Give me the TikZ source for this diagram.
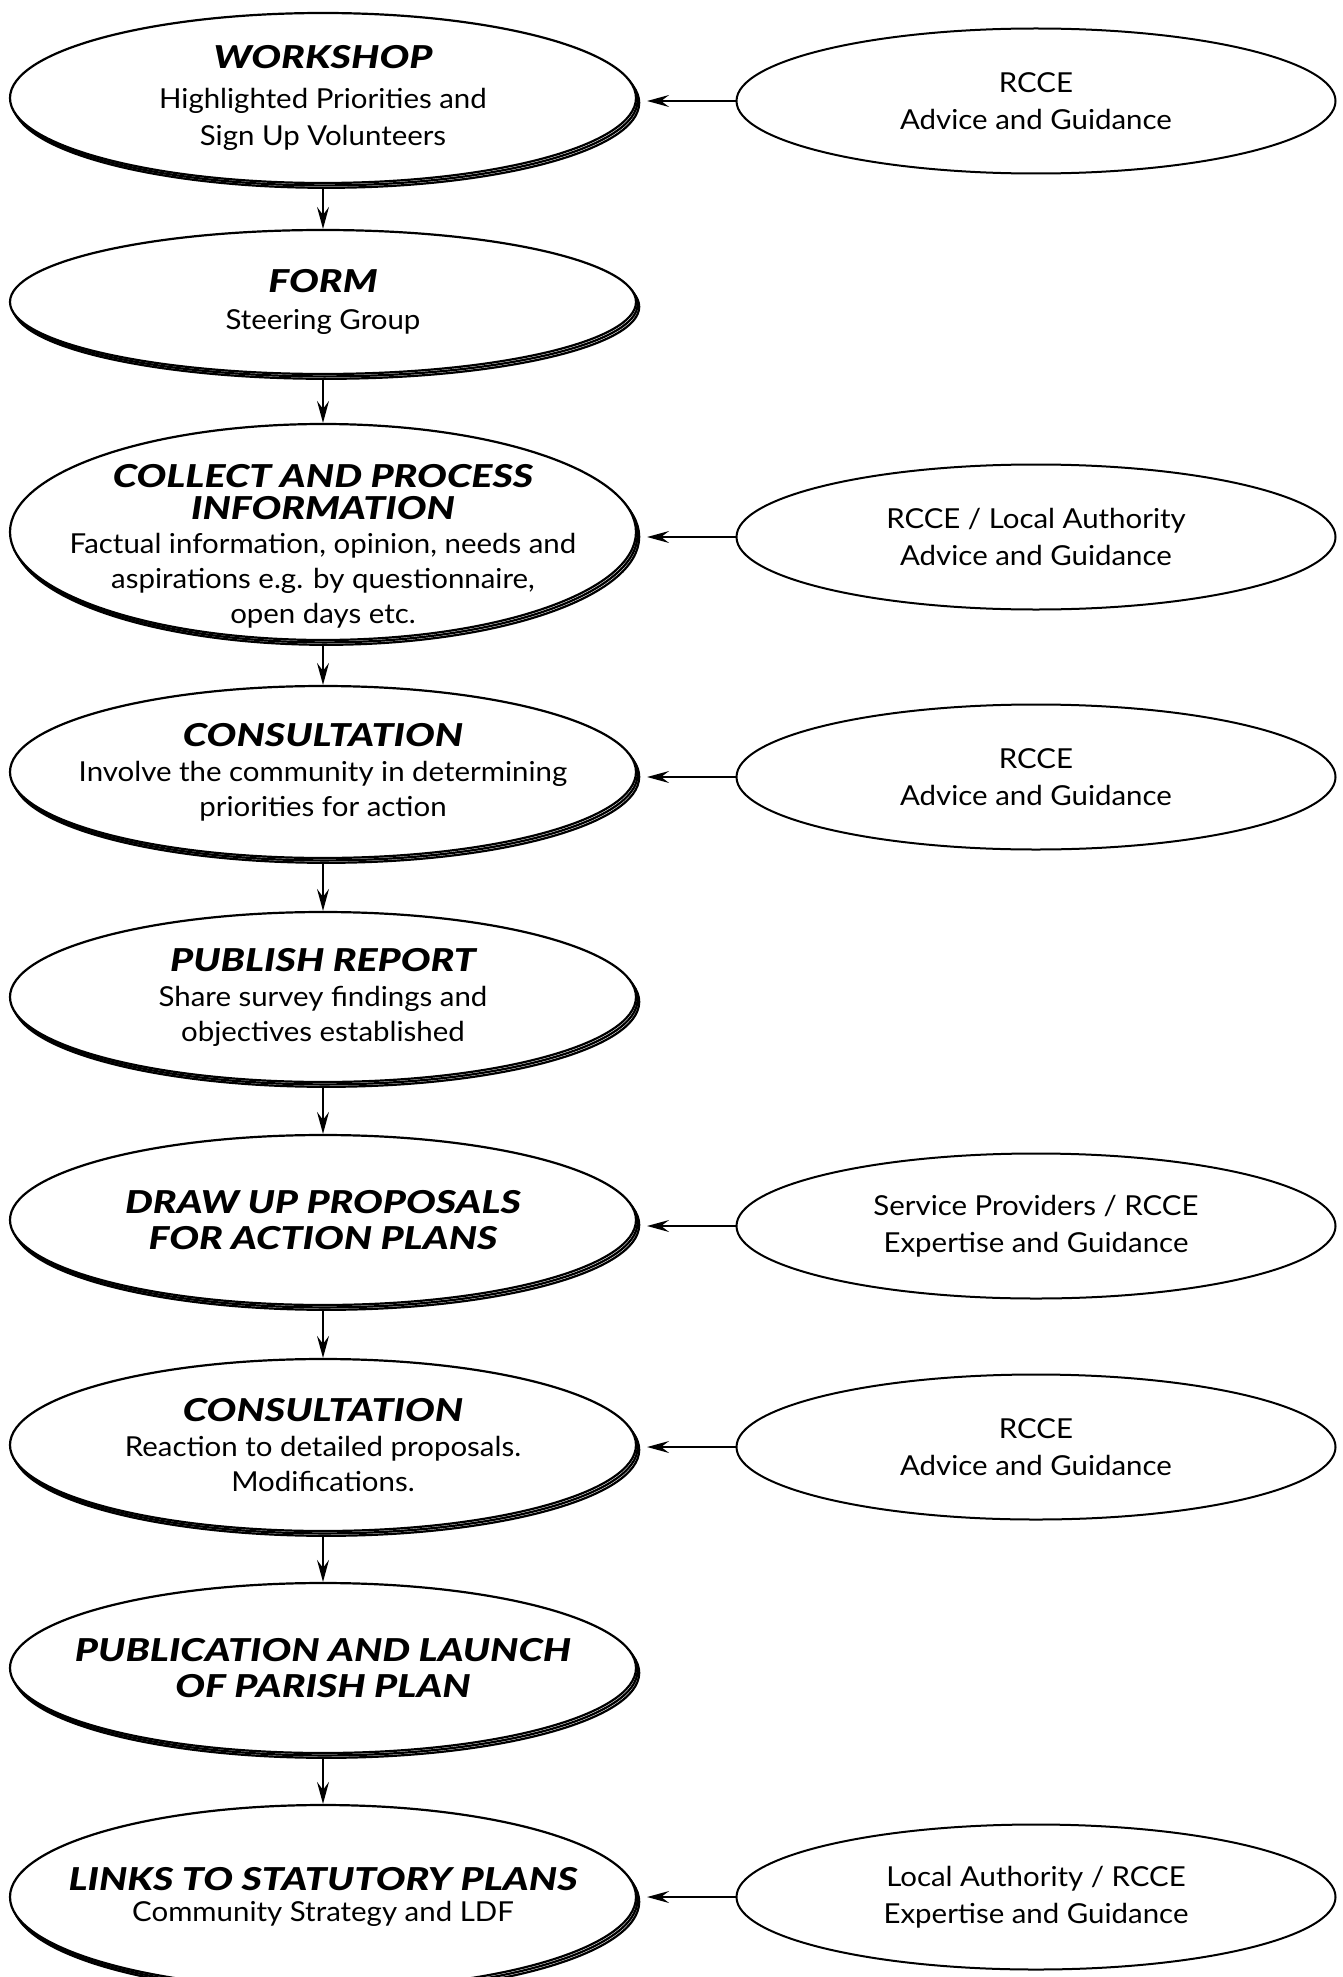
\documentclass[tikz,border=0pt]{standalone}
\usepackage{fontspec}
\setmainfont{Lato}[FakeStretch=1.07]
\newfontfamily\headfont{Lato Black Italic}[FakeStretch=1.25]
\usetikzlibrary{shapes.geometric,shadows,arrows.meta}

\newcommand{\hd}[1]{{\fontsize{31.5}{33}\headfont #1}}

\begin{document}
\begin{tikzpicture}[x=1pt,y=-1pt,
  stage/.style={ellipse, draw, line width=2.2pt, fill=white, inner sep=0pt,
    minimum width=626pt, double copy shadow={shadow xshift=1.6pt, shadow yshift=-2.4pt}},
  helper/.style={ellipse, draw, line width=2pt, fill=white, inner sep=0pt,
    minimum width=599pt, minimum height=145pt},
  txt/.style={align=center, font=\fontsize{27.5}{37}\selectfont},
  flow/.style={-{Stealth[length=22pt,width=12pt,inset=8pt]}, line width=1.5pt}]

\useasboundingbox (0,0) rectangle (1342,1977);

% Main steps
\node[stage, minimum height=170pt] (workshop) at (323,98) {};
\node[stage, minimum height=144pt] (form) at (323,302) {};
\node[stage, minimum height=216pt] (collect) at (323,532) {};
\node[stage, minimum height=172pt] (consultA) at (323,772) {};
\node[stage, minimum height=170pt] (publish) at (323,997) {};
\node[stage, minimum height=170pt] (proposals) at (323,1220) {};
\node[stage, minimum height=172pt] (consultB) at (323,1445) {};
\node[stage, minimum height=170pt] (launch) at (323,1668) {};
\node[stage, minimum height=184pt] (links) at (323,1897) {};

\node[txt] at (workshop) {\hd{WORKSHOP}\\[3pt] Highlighted Priorities and\\ Sign Up Volunteers};
\node[txt] at (form) {\hd{FORM}\\ Steering Group};
\node[txt] at ([yshift=-14pt]collect.center) {\hd{COLLECT AND PROCESS}\\[-5pt] \hd{INFORMATION}\\[-3pt] Factual information, opinion, needs and\\[-2pt] aspirations e.g. by questionnaire,\\[-2pt] open days etc.};
\node[txt] at (consultA) {\hd{CONSULTATION}\\[-2pt] Involve the community in determining\\[-2pt] priorities for action};
\node[txt] at (publish) {\hd{PUBLISH REPORT}\\[-2pt] Share survey findings and\\[-2pt] objectives established};
\node[txt] at (proposals) {\hd{DRAW UP PROPOSALS}\\[-1pt] \hd{FOR ACTION PLANS}};
\node[txt] at (consultB) {\hd{CONSULTATION}\\[-2pt] Reaction to detailed proposals.\\[-2pt] Modifications.};
\node[txt] at (launch) {\hd{PUBLICATION AND LAUNCH}\\[-1pt] \hd{OF PARISH PLAN}};
\node[txt] at (links) {\hd{LINKS TO STATUTORY PLANS}\\[-6pt] Community Strategy and LDF};

% Support
\node[helper] (adviceA) at (1036,101) {};
\node[helper] (adviceB) at (1036,537) {};
\node[helper] (adviceC) at (1036,777) {};
\node[helper] (expertA) at (1036,1226) {};
\node[helper] (adviceD) at (1036,1447) {};
\node[helper] (expertB) at (1036,1897) {};

\node[txt] at (adviceA) {RCCE\\ Advice and Guidance};
\node[txt] at (adviceB) {RCCE / Local Authority\\ Advice and Guidance};
\node[txt] at (adviceC) {RCCE\\ Advice and Guidance};
\node[txt] at (expertA) {Service Providers / RCCE\\ Expertise and Guidance};
\node[txt] at (adviceD) {RCCE\\ Advice and Guidance};
\node[txt] at (expertB) {Local Authority / RCCE\\ Expertise and Guidance};

% Down arrows
\draw[flow] ([yshift=-4pt]workshop.south) -- (form.north);
\draw[flow] ([yshift=-4pt]form.south) -- (collect.north);
\draw[flow] ([yshift=-4pt]collect.south) -- (consultA.north);
\draw[flow] ([yshift=-4pt]consultA.south) -- (publish.north);
\draw[flow] ([yshift=-4pt]publish.south) -- (proposals.north);
\draw[flow] ([yshift=-4pt]proposals.south) -- (consultB.north);
\draw[flow] ([yshift=-4pt]consultB.south) -- (launch.north);
\draw[flow] ([yshift=-4pt]launch.south) -- (links.north);

% Side arrows
\draw[flow, shorten >=10pt] (adviceA.west) -- (adviceA.west -| workshop.east);
\draw[flow, shorten >=10pt] (adviceB.west) -- (adviceB.west -| collect.east);
\draw[flow, shorten >=10pt] (adviceC.west) -- (adviceC.west -| consultA.east);
\draw[flow, shorten >=10pt] (expertA.west) -- (expertA.west -| proposals.east);
\draw[flow, shorten >=10pt] (adviceD.west) -- (adviceD.west -| consultB.east);
\draw[flow, shorten >=10pt] (expertB.west) -- (expertB.west -| links.east);

\end{tikzpicture}
\end{document}
